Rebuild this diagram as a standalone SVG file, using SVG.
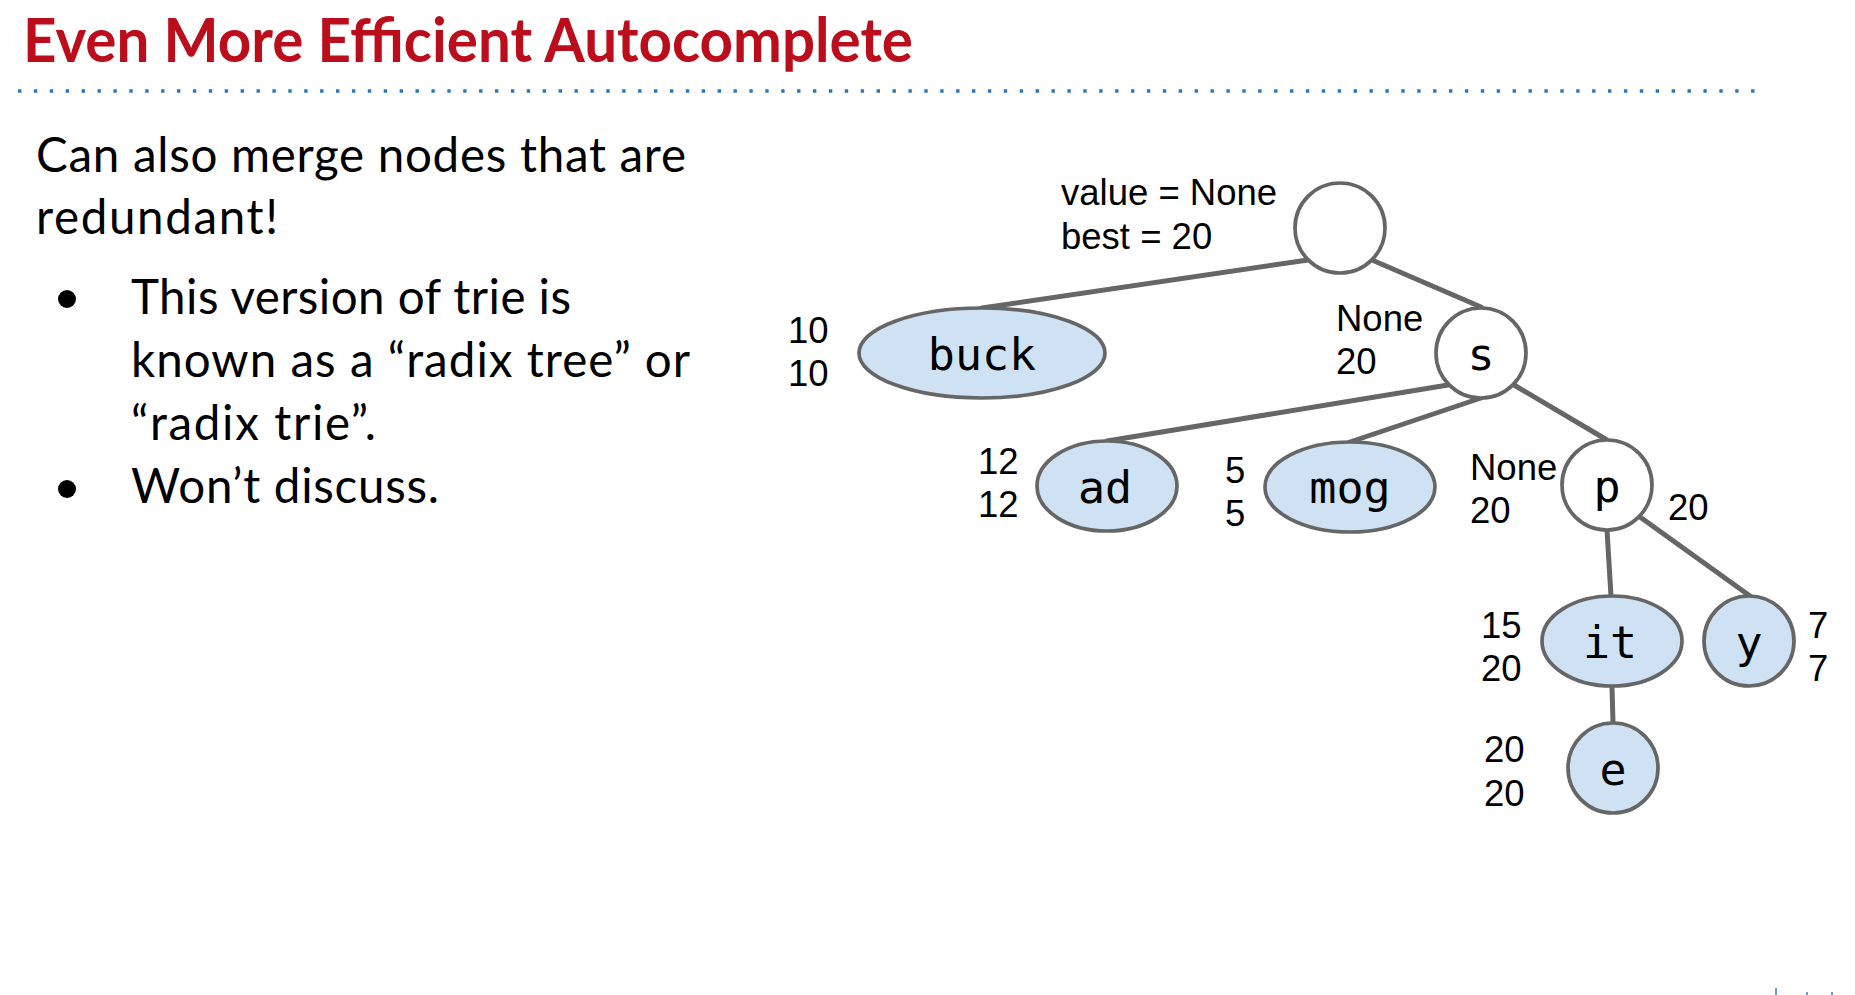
<svg xmlns="http://www.w3.org/2000/svg" width="1855" height="995" viewBox="0 0 1855 995">
  <style>
    .title { font-family: "Lato", "Open Sans", "Liberation Sans", sans-serif; font-weight: 700; font-size: 61px; fill: #BB0D1B; }
    .body { font-family: "Lato", "Open Sans", "Liberation Sans", sans-serif; font-size: 47.5px; fill: #000; }
    .lbl { font-family: "Liberation Sans", Arial, sans-serif; font-size: 36.5px; fill: #000; }
    .key { font-family: "DejaVu Sans Mono", "Liberation Mono", monospace; font-size: 45px; fill: #000; text-anchor: middle; }
    .leaf { fill: #CFE2F3; stroke: #666; stroke-width: 3.7; }
    .inner { fill: #FFF; stroke: #666; stroke-width: 3.7; }
    .edge { stroke: #666; stroke-width: 5; stroke-linecap: round; fill: none; }
  </style>

  <rect width="1855" height="995" fill="#FFF"/>

  <!-- heading and rule -->
  <text class="title" x="23" y="62" textLength="890" lengthAdjust="spacingAndGlyphs">Even More Efficient Autocomplete</text>
  <line x1="18" y1="91" x2="1766" y2="91" stroke="#2E75B6" stroke-width="3.4" stroke-dasharray="3.4 12.5"/>

  <!-- left column text -->
  <g id="body-text">
    <text class="body" x="36" y="172" textLength="650">Can also merge nodes that are</text>
    <text class="body" x="36" y="234" textLength="242">redundant!</text>
    <circle cx="67" cy="299" r="9" fill="#000"/>
    <text class="body" x="131" y="314" textLength="440">This version of trie is</text>
    <text class="body" x="131" y="377" textLength="559">known as a “radix tree” or</text>
    <text class="body" x="131" y="440" textLength="245">“radix trie”.</text>
    <circle cx="67" cy="489" r="9" fill="#000"/>
    <text class="body" x="131" y="503" textLength="308">Won’t discuss.</text>
  </g>

  <!-- trie edges -->
  <g id="edges">
    <line class="edge" x1="1308" y1="260" x2="982" y2="308"/>
    <line class="edge" x1="1372" y1="260" x2="1481" y2="307"/>
    <line class="edge" x1="1448" y1="385" x2="1107" y2="441"/>
    <line class="edge" x1="1481" y1="398" x2="1350" y2="442"/>
    <line class="edge" x1="1514" y1="385" x2="1607" y2="440"/>
    <line class="edge" x1="1607" y1="530" x2="1611" y2="596"/>
    <line class="edge" x1="1640" y1="517" x2="1750" y2="596"/>
    <line class="edge" x1="1612" y1="687" x2="1613" y2="723"/>
  </g>

  <!-- trie nodes -->
  <g id="root">
    <circle class="inner" cx="1340" cy="228" r="45"/>
    <text class="lbl" x="1061" y="205">value = None</text>
    <text class="lbl" x="1061" y="249">best = 20</text>
  </g>
  <g id="buck">
    <ellipse class="leaf" cx="982" cy="353" rx="123" ry="45"/>
    <text class="key" x="982" y="370">buck</text>
    <text class="lbl" x="788" y="343">10</text>
    <text class="lbl" x="788" y="386">10</text>
  </g>
  <g id="s">
    <circle class="inner" cx="1481" cy="353" r="45"/>
    <text class="key" x="1481" y="370">s</text>
    <text class="lbl" x="1336" y="331">None</text>
    <text class="lbl" x="1336" y="374">20</text>
  </g>
  <g id="ad">
    <ellipse class="leaf" cx="1107" cy="486" rx="70" ry="45"/>
    <text class="key" x="1105" y="503">ad</text>
    <text class="lbl" x="978" y="474">12</text>
    <text class="lbl" x="978" y="517">12</text>
  </g>
  <g id="mog">
    <ellipse class="leaf" cx="1350" cy="487" rx="85" ry="45"/>
    <text class="key" x="1350" y="503">mog</text>
    <text class="lbl" x="1225" y="483">5</text>
    <text class="lbl" x="1225" y="526">5</text>
  </g>
  <g id="p">
    <circle class="inner" cx="1607" cy="485" r="45"/>
    <text class="key" x="1607" y="502">p</text>
    <text class="lbl" x="1470" y="480">None</text>
    <text class="lbl" x="1470" y="523">20</text>
    <text class="lbl" x="1668" y="520">20</text>
  </g>
  <g id="it">
    <ellipse class="leaf" cx="1612" cy="641" rx="70" ry="45"/>
    <text class="key" x="1610" y="658">it</text>
    <text class="lbl" x="1481" y="638">15</text>
    <text class="lbl" x="1481" y="681">20</text>
  </g>
  <g id="y">
    <circle class="leaf" cx="1749" cy="641" r="45"/>
    <text class="key" x="1749" y="658">y</text>
    <text class="lbl" x="1808" y="638">7</text>
    <text class="lbl" x="1808" y="681">7</text>
  </g>
  <g id="e">
    <circle class="leaf" cx="1613" cy="768" r="45"/>
    <text class="key" x="1613" y="785">e</text>
    <text class="lbl" x="1484" y="762">20</text>
    <text class="lbl" x="1484" y="806">20</text>
  </g>

  <!-- clipped marks at the lower edge -->
  <g fill="#2E75B6" opacity="0.7">
    <rect x="1775" y="988" width="2" height="7"/>
    <rect x="1806" y="992" width="2" height="3"/>
    <rect x="1831" y="992" width="2" height="3"/>
  </g>
</svg>
